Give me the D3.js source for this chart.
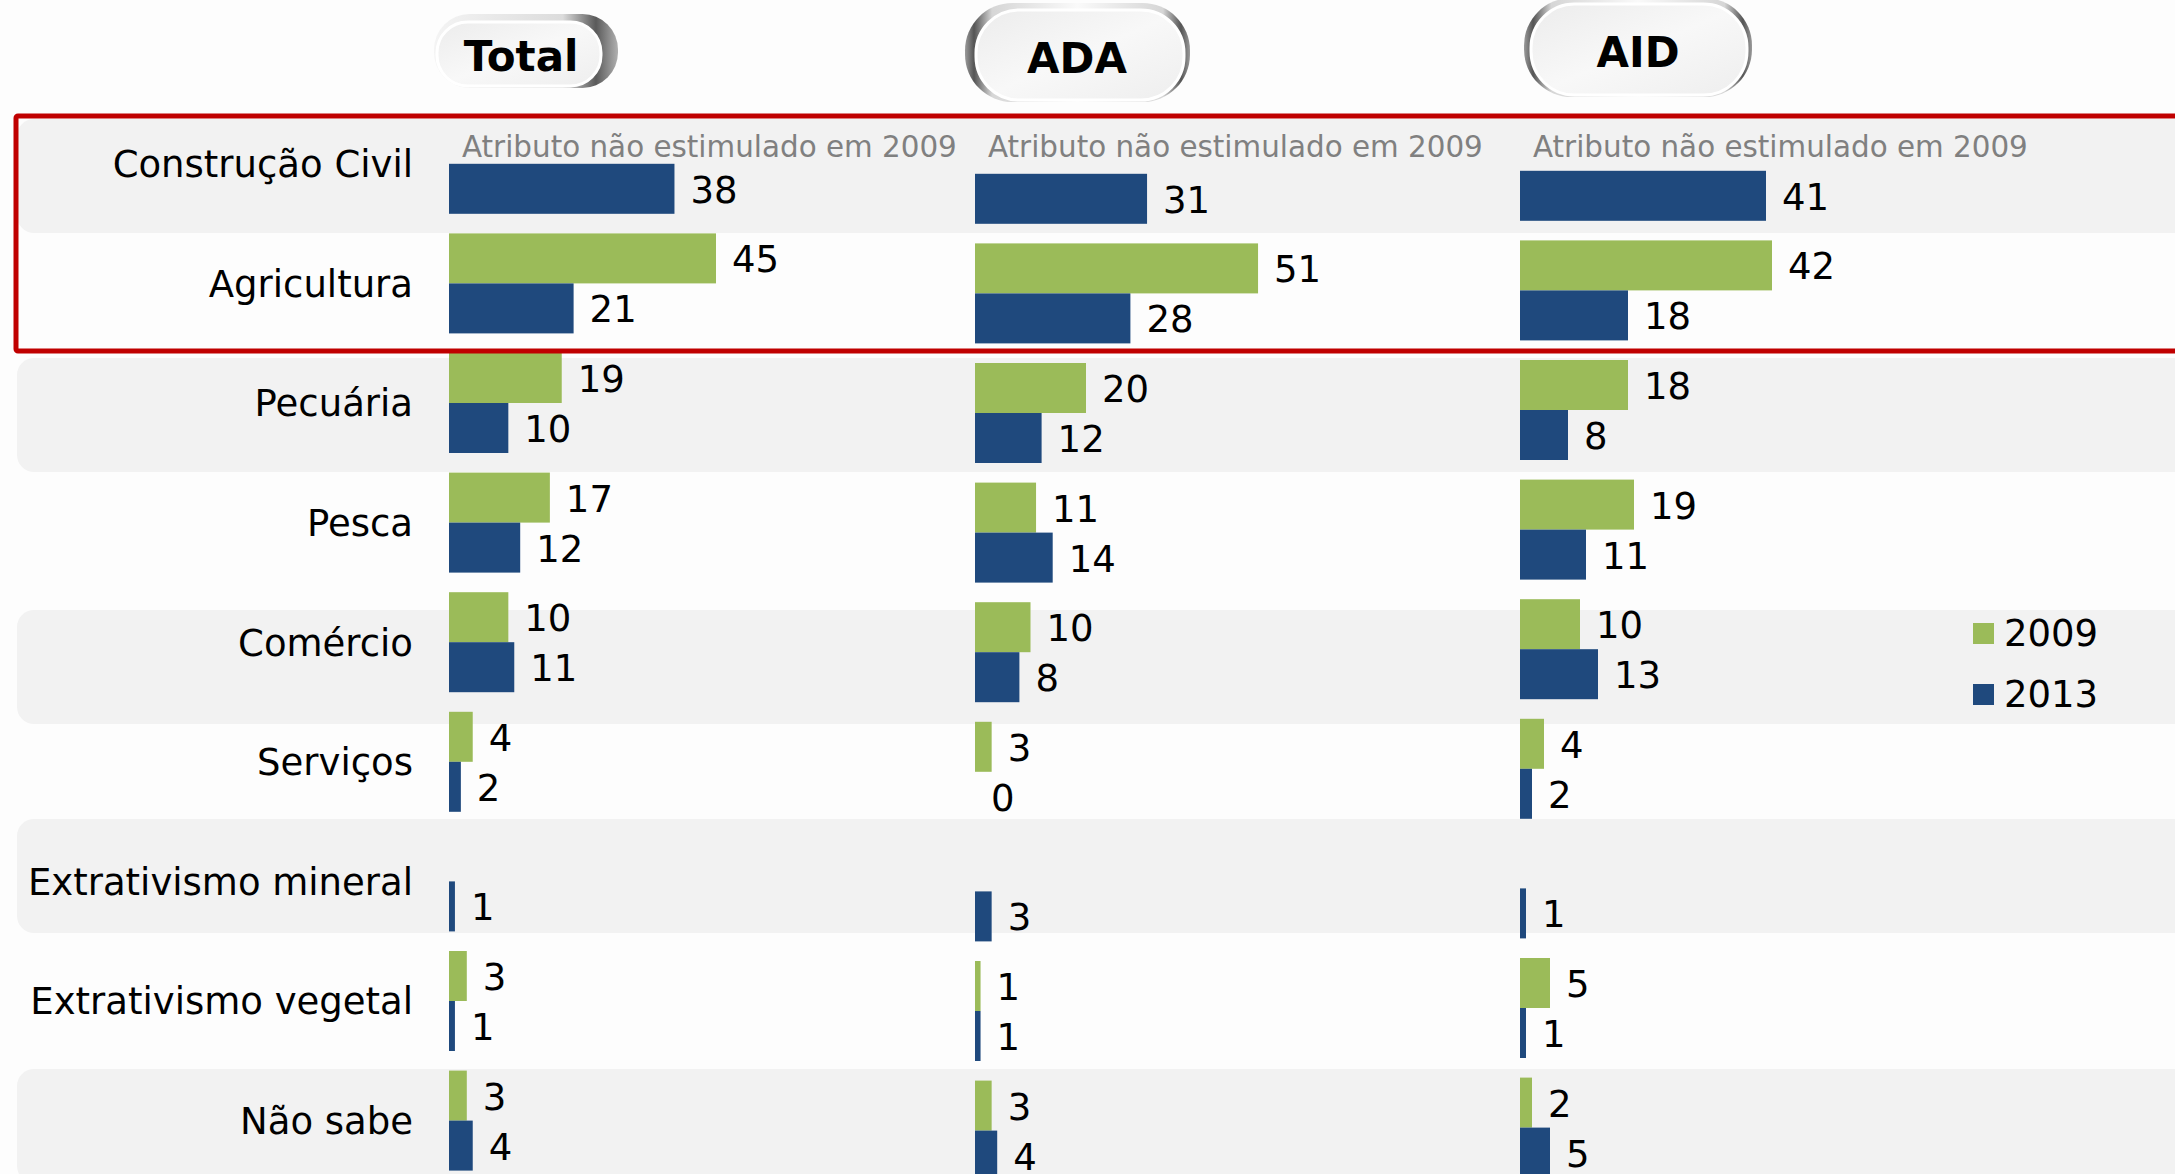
<!DOCTYPE html>
<html>
<head>
<meta charset="utf-8">
<script src="https://cdn.jsdelivr.net/npm/d3@7"></script>
<style>
  body { margin: 0; background: #fdfdfd; }
  svg { display: block; font-family: 'DejaVu Sans', Verdana, sans-serif; }
</style>
</head>
<body>
<svg id="chart"></svg>
<script>
// Data
var categories = ['Construção Civil', 'Agricultura', 'Pecuária', 'Pesca', 'Comércio',
  'Serviços', 'Extrativismo mineral', 'Extrativismo vegetal', 'Não sabe'];
var years = ['2009', '2013'];
var panelNames = ['Total', 'ADA', 'AID'];
var total2009 = [null, 45, 19, 17, 10, 4, null, 3, 3];
var total2013 = [38, 21, 10, 12, 11, 2, 1, 1, 4];
var ada2009 = [null, 51, 20, 11, 10, 3, null, 1, 3];
var ada2013 = [31, 28, 12, 14, 8, 0, 3, 1, 4];
var aid2009 = [null, 42, 18, 19, 10, 4, null, 5, 2];
var aid2013 = [41, 18, 8, 11, 13, 2, 1, 1, 5];
var noteText = 'Atributo não estimulado em 2009';

// Canvas size
var canvasWidth = 2175;
var canvasHeight = 1174;

var colors = { '2009': '#9bbb59', '2013': '#1f497d' };

// Grey background bands (top edges, they do not sit exactly on the rows)
var bandTops = [119, 358, 610, 819, 1069];
var bandHeight = 114;

// Panel layout (x start, bar length for 60 units, vertical nudge, header pill)
var panels = [
  { name: panelNames[0], v2009: total2009, v2013: total2013, x: 449, width: 356, dy: 0,
    pill: { x: 434, y: 14, w: 184, h: 74, ix: 437, iy: 22, iw: 164, ih: 64, ty: 56, tx: 521 } },
  { name: panelNames[1], v2009: ada2009, v2013: ada2013, x: 975, width: 333, dy: 10,
    pill: { x: 965, y: 3, w: 225, h: 99, ix: 976, iy: 10, iw: 208, ih: 90, ty: 58, tx: 1077 } },
  { name: panelNames[2], v2009: aid2009, v2013: aid2013, x: 1520, width: 360, dy: 7,
    pill: { x: 1524, y: -2, w: 228, h: 99, ix: 1531, iy: 4, iw: 216, ih: 91, ty: 52, tx: 1638 } }
];

var svg = d3.select('#chart')
  .attr('width', canvasWidth)
  .attr('height', canvasHeight);

// Row scale
var rowScale = d3.scaleBand()
  .domain(categories)
  .range([104, 104 + categories.length * 119.6]);

var defs = svg.append('defs');

var ringTotal = defs.append('linearGradient').attr('id', 'ring-total');
[['0%', '#f4f4f4'], ['70%', '#dcdcdc'], ['88%', '#5a5a5a'], ['100%', '#b0b0b0']].forEach(function(s) {
  ringTotal.append('stop').attr('offset', s[0]).attr('stop-color', s[1]);
});

var ringSide = defs.append('linearGradient').attr('id', 'ring-side');
[['0%', '#9a9a9a'], ['4%', '#555'], ['12%', '#d6d6d6'], ['50%', '#fafafa'], ['88%', '#d6d6d6'], ['96%', '#555'], ['100%', '#9a9a9a']].forEach(function(s) {
  ringSide.append('stop').attr('offset', s[0]).attr('stop-color', s[1]);
});

var innerFill = defs.append('linearGradient').attr('id', 'inner-fill')
  .attr('x1', '0%').attr('y1', '0%').attr('x2', '100%').attr('y2', '100%');
innerFill.append('stop').attr('offset', '0%').attr('stop-color', '#ececec');
innerFill.append('stop').attr('offset', '50%').attr('stop-color', '#f8f8f8');
innerFill.append('stop').attr('offset', '100%').attr('stop-color', '#eeeeee');

// Background bands
svg.append('g')
  .classed('bands', true)
  .selectAll('rect')
  .data(bandTops)
  .enter()
  .append('rect')
  .attr('x', 17)
  .attr('y', function(d) { return d; })
  .attr('width', canvasWidth)
  .attr('height', bandHeight)
  .attr('rx', 17)
  .attr('fill', '#f2f2f2');

// Header pills
var pills = svg.append('g')
  .classed('pills', true)
  .selectAll('.pill')
  .data(panels)
  .enter()
  .append('g')
  .classed('pill', true);

pills.append('rect')
  .attr('x', function(d) { return d.pill.x; })
  .attr('y', function(d) { return d.pill.y; })
  .attr('width', function(d) { return d.pill.w; })
  .attr('height', function(d) { return d.pill.h; })
  .attr('rx', function(d) { return d.pill.h * 0.48; })
  .attr('fill', function(d) { return d.name === 'Total' ? 'url(#ring-total)' : 'url(#ring-side)'; });

pills.append('rect')
  .attr('x', function(d) { return d.pill.ix; })
  .attr('y', function(d) { return d.pill.iy; })
  .attr('width', function(d) { return d.pill.iw; })
  .attr('height', function(d) { return d.pill.ih; })
  .attr('rx', function(d) { return d.pill.ih * 0.48; })
  .attr('fill', 'url(#inner-fill)')
  .attr('stroke', '#ffffff')
  .attr('stroke-width', 3);

pills.append('text')
  .attr('x', function(d) { return d.pill.tx; })
  .attr('y', function(d) { return d.pill.ty; })
  .attr('dy', '0.36em')
  .attr('text-anchor', 'middle')
  .attr('font-size', 42)
  .attr('font-weight', 'bold')
  .attr('fill', '#000')
  .text(function(d) { return d.name; });

// Category labels
svg.append('g')
  .classed('labels', true)
  .selectAll('text')
  .data(categories)
  .enter()
  .append('text')
  .attr('x', 413)
  .attr('y', function(d) { return rowScale(d) + rowScale.bandwidth() / 2; })
  .attr('dy', '0.36em')
  .attr('text-anchor', 'end')
  .attr('font-size', 37)
  .attr('fill', '#000')
  .text(function(d) { return d; });

// Bars per panel
panels.forEach(function(p) {
  var xScale = d3.scaleLinear()
    .domain([0, 60])
    .range([p.x, p.x + p.width]);

  var rows = categories.map(function(c, i) {
    return { category: c, values: [
      { year: '2009', value: p.v2009[i] },
      { year: '2013', value: p.v2013[i] }
    ] };
  });

  var g = svg.append('g').classed('panel-' + p.name, true);

  var rowGroups = g.selectAll('.row')
    .data(rows)
    .enter()
    .append('g')
    .classed('row', true)
    .attr('transform', function(d) {
      var c = rowScale(d.category) + rowScale.bandwidth() / 2 + p.dy;
      return 'translate(0,' + (c - 50) + ')';
    });

  var yearScale = d3.scaleBand()
    .domain(years)
    .range([0, 100]);

  var items = rowGroups.selectAll('.bar')
    .data(function(d) { return d.values.filter(function(v) { return v.value !== null; }); })
    .enter()
    .append('g')
    .classed('bar', true);

  items.append('rect')
    .attr('x', xScale(0))
    .attr('y', function(d) { return yearScale(d.year); })
    .attr('width', function(d) { return xScale(d.value) - xScale(0); })
    .attr('height', yearScale.bandwidth())
    .attr('fill', function(d) { return colors[d.year]; });

  items.append('text')
    .attr('x', function(d) { return xScale(d.value) + 16; })
    .attr('y', function(d) { return yearScale(d.year) + yearScale.bandwidth() / 2; })
    .attr('dy', '0.38em')
    .attr('font-size', 37)
    .attr('fill', '#000')
    .text(function(d) { return d.value; });

  // Note where the 2009 value is missing for the first row
  g.append('text')
    .attr('x', xScale(0) + 13)
    .attr('y', rowScale(categories[0]) + rowScale.bandwidth() / 2 - 17)
    .attr('dy', '0.36em')
    .attr('font-size', 29.4)
    .attr('fill', '#808080')
    .text(noteText);
});

// Red highlight frame
svg.append('rect')
  .attr('x', 16)
  .attr('y', 116)
  .attr('width', canvasWidth)
  .attr('height', 235)
  .attr('fill', 'none')
  .attr('stroke', '#c00000')
  .attr('stroke-width', 5)
  .attr('rx', 2);

// Legend
var legend = svg.append('g')
  .classed('legend', true)
  .selectAll('.item')
  .data(years)
  .enter()
  .append('g')
  .classed('item', true)
  .attr('transform', function(d, i) { return 'translate(1973,' + (623 + i * 61) + ')'; });

legend.append('rect')
  .attr('width', 21)
  .attr('height', 21)
  .attr('fill', function(d) { return colors[d]; });

legend.append('text')
  .attr('x', 31)
  .attr('y', 10)
  .attr('dy', '0.36em')
  .attr('font-size', 37)
  .attr('fill', '#000')
  .text(function(d) { return d; });
</script>
</body>
</html>
